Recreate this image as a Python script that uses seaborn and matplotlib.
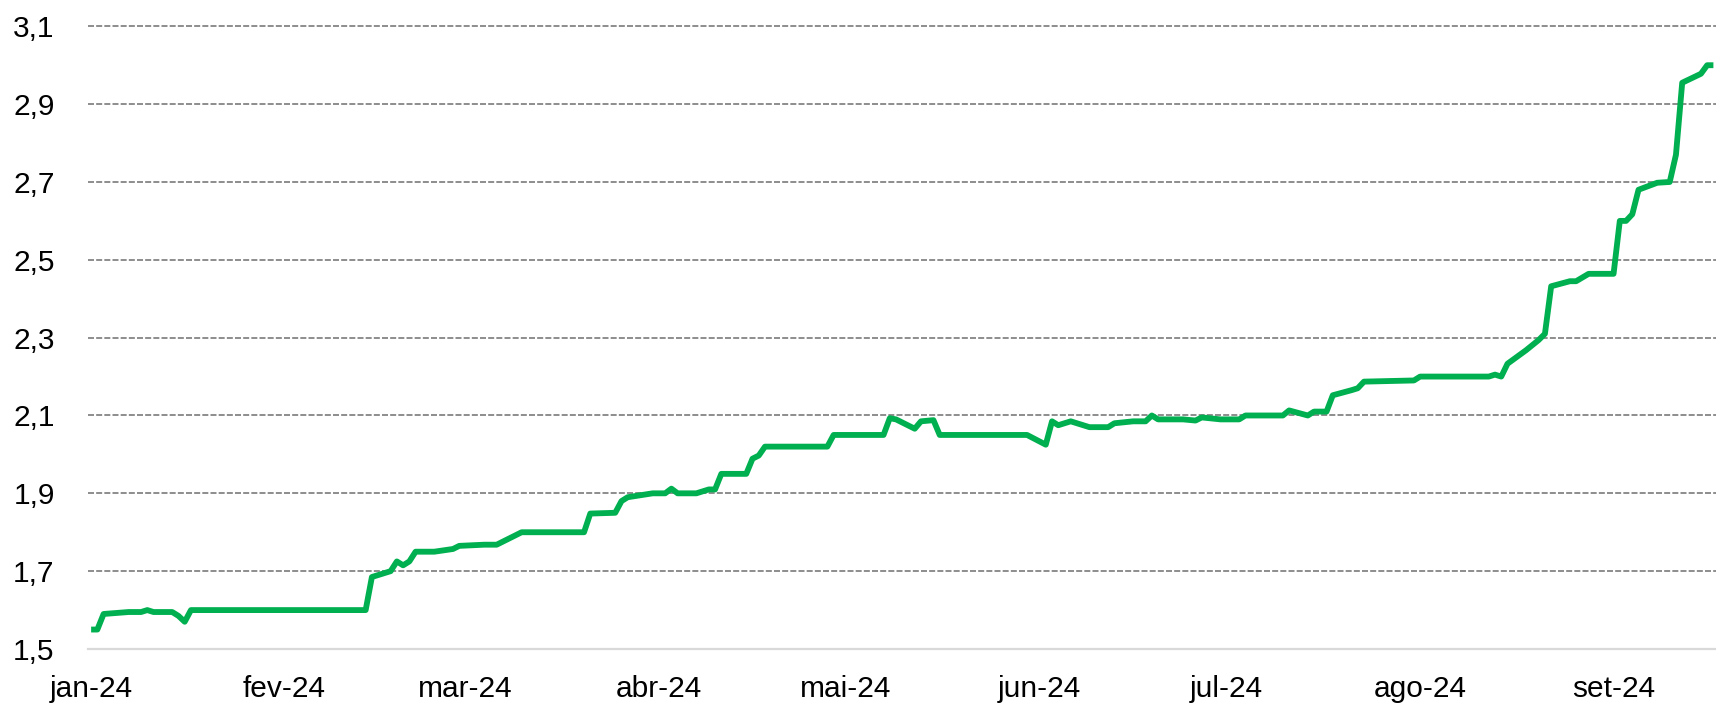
import matplotlib
matplotlib.use("Agg")
import matplotlib.pyplot as plt
import seaborn as sns
import pandas as pd

dates = [
    "2024-01-01", "2024-01-02", "2024-01-03", "2024-01-07", "2024-01-09", "2024-01-10",
    "2024-01-11", "2024-01-14", "2024-01-15", "2024-01-16", "2024-01-17", "2024-02-14",
    "2024-02-15", "2024-02-18", "2024-02-19", "2024-02-20", "2024-02-21", "2024-02-22",
    "2024-02-25", "2024-02-28", "2024-02-29", "2024-03-04", "2024-03-06", "2024-03-10",
    "2024-03-20", "2024-03-21", "2024-03-25", "2024-03-26", "2024-03-27", "2024-03-31",
    "2024-04-02", "2024-04-03", "2024-04-04", "2024-04-07", "2024-04-09", "2024-04-10",
    "2024-04-11", "2024-04-15", "2024-04-16", "2024-04-17", "2024-04-18", "2024-04-24",
    "2024-04-28", "2024-04-29", "2024-05-07", "2024-05-08", "2024-05-09", "2024-05-12",
    "2024-05-13", "2024-05-15", "2024-05-16", "2024-05-23", "2024-05-30", "2024-06-02",
    "2024-06-03", "2024-06-04", "2024-06-06", "2024-06-09", "2024-06-12", "2024-06-13",
    "2024-06-16", "2024-06-18", "2024-06-19", "2024-06-20", "2024-06-24", "2024-06-26",
    "2024-06-27", "2024-06-30", "2024-07-03", "2024-07-04", "2024-07-10", "2024-07-11",
    "2024-07-14", "2024-07-15", "2024-07-17", "2024-07-18", "2024-07-21", "2024-07-22",
    "2024-07-23", "2024-07-31", "2024-08-01", "2024-08-12", "2024-08-13", "2024-08-14",
    "2024-08-15", "2024-08-18", "2024-08-20", "2024-08-21", "2024-08-22", "2024-08-25",
    "2024-08-26", "2024-08-28", "2024-09-01", "2024-09-02", "2024-09-03", "2024-09-04",
    "2024-09-05", "2024-09-08", "2024-09-10", "2024-09-11", "2024-09-12", "2024-09-15",
    "2024-09-16", "2024-09-17",
]
values = [
    1.55, 1.55, 1.59, 1.595, 1.595, 1.60,
    1.595, 1.595, 1.585, 1.57, 1.60, 1.60,
    1.685, 1.70, 1.725, 1.715, 1.725, 1.75,
    1.75, 1.757, 1.765, 1.768, 1.768, 1.80,
    1.80, 1.848, 1.85, 1.88, 1.89, 1.90,
    1.90, 1.912, 1.90, 1.90, 1.91, 1.91,
    1.95, 1.95, 1.989, 1.997, 2.02, 2.02,
    2.02, 2.05, 2.05, 2.093, 2.09, 2.066,
    2.085, 2.088, 2.05, 2.05, 2.05, 2.025,
    2.085, 2.075, 2.085, 2.07, 2.07, 2.08,
    2.085, 2.085, 2.10, 2.09, 2.09, 2.087,
    2.095, 2.09, 2.09, 2.10, 2.10, 2.113,
    2.10, 2.11, 2.11, 2.152, 2.165, 2.17,
    2.187, 2.19, 2.20, 2.20, 2.205, 2.20,
    2.233, 2.268, 2.294, 2.31, 2.432, 2.445,
    2.445, 2.464, 2.464, 2.60, 2.60, 2.617,
    2.68, 2.698, 2.70, 2.77, 2.955, 2.978,
    3.0, 3.0,
]
month_ticks = ["2024-01-01", "2024-02-01", "2024-03-01", "2024-04-01", "2024-05-01",
               "2024-06-01", "2024-07-01", "2024-08-01", "2024-09-01"]
month_labels = ["jan-24", "fev-24", "mar-24", "abr-24", "mai-24",
                "jun-24", "jul-24", "ago-24", "set-24"]
y_ticks = [1.5, 1.7, 1.9, 2.1, 2.3, 2.5, 2.7, 2.9, 3.1]
y_labels = ["1,5", "1,7", "1,9", "2,1", "2,3", "2,5", "2,7", "2,9", "3,1"]

df = pd.DataFrame({"data": pd.to_datetime(dates), "valor": values})

sns.set_style("white")
plt.rcParams["font.family"] = ["Liberation Sans", "DejaVu Sans"]

fig = plt.figure(figsize=(17.16, 7.05), dpi=100)
ax = fig.add_axes([88 / 1716, 1 - 649 / 705, 1 - 88 / 1716, (649 - 26.3) / 705])

sns.lineplot(data=df, x="data", y="valor", ax=ax, color="#00B050", linewidth=4.2,
             solid_joinstyle="round", solid_capstyle="butt", zorder=3)

ax.set_xlim(pd.Timestamp("2023-12-31 12:00"), pd.Timestamp("2024-09-17 10:00"))
ax.set_ylim(1.5, 3.1)
ax.set_xticks(pd.to_datetime(month_ticks))
ax.set_xticklabels(month_labels)
ax.set_yticks(y_ticks)
ax.set_yticklabels(y_labels)

ax.grid(axis="y", color="#7a7a7a", linewidth=1.2, linestyle=(0, (3.6, 1.3)))
ax.grid(axis="x", visible=False)
ax.set_axisbelow(True)
for i, gl in enumerate(ax.yaxis.get_gridlines()):
    gl.set_clip_on(False)
    if i == 0:
        gl.set_visible(False)

for s in ["top", "right", "left"]:
    ax.spines[s].set_visible(False)
ax.spines["bottom"].set_color("#d9d9d9")
ax.spines["bottom"].set_linewidth(1.6)

ax.tick_params(axis="y", length=0, pad=24, labelsize=21.5, labelcolor="#000000")
ax.tick_params(axis="x", length=0, pad=19, labelsize=21.5, labelcolor="#000000")
ax.set_xlabel("")
ax.set_ylabel("")

fig.savefig("out.png", dpi=100)
